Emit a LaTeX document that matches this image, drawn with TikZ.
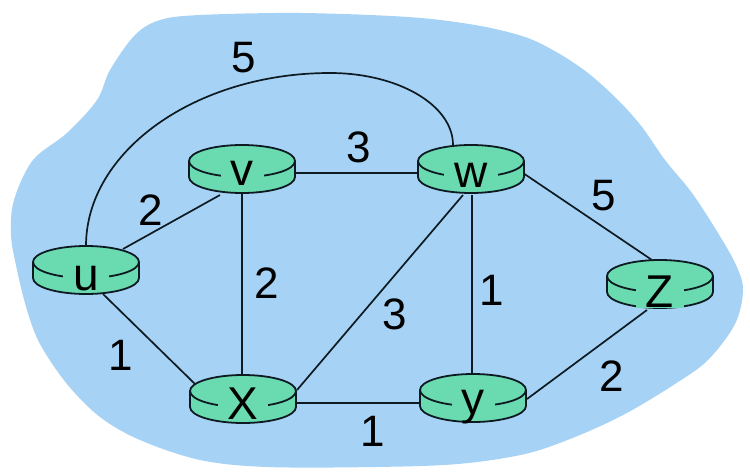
\documentclass[tikz,border=0pt]{standalone}
\usepackage{fontspec}
\setmainfont{Liberation Sans}
\definecolor{blob}{RGB}{166,211,245}
\definecolor{rgreen}{RGB}{106,219,176}
\definecolor{ink}{RGB}{14,26,34}
\newcommand\drawrouter[4][]{%
  \filldraw[rbody] ([shift={(-53,0)}]#2.center) -- ++(0,16)
    arc[start angle=180,end angle=0,x radius=53,y radius=16] -- ++(0,-16)
    arc[start angle=0,end angle=-180,x radius=53,y radius=16] -- cycle;
  \draw[rline] ([shift={(53,0)}]#2.center)
    arc[start angle=0,end angle=180,x radius=53,y radius=16];
  \node[rlabel,#1] (#2l) at ([shift={(0,#4)}]#2.center) {#3};
}
\begin{document}
\begin{tikzpicture}[x=1pt,y=-1pt,
  rnode/.style={rectangle,minimum width=106pt,minimum height=32pt,inner sep=0pt},
  rbody/.style={fill=rgreen,draw=ink,line width=1.8pt,line join=round},
  rline/.style={draw=ink,line width=1.8pt},
  rlabel/.style={anchor=base,fill=rgreen,inner xsep=10pt,inner ysep=0.5pt,
    font=\fontsize{46}{50}\selectfont,text=black},
  link/.style={draw=ink,line width=1.7pt},
  wlab/.style={font=\fontsize{44}{50}\selectfont,text=black,inner sep=0pt}]
\useasboundingbox (0,0) rectangle (750,474);
\fill[white] (0,0) rectangle (750,474);
% cloud
\fill[blob] plot[smooth cycle,tension=0.55] coordinates {
 (200,15) (300,13) (408,17) (475,25) (525,37) (558,53) (588,73) (618,100)
 (642,127) (665,160) (692,193) (718,233) (736,265) (743,290) (735,324)
 (708,360) (675,384) (625,414) (575,437) (525,454) (458,464) (375,467)
 (267,467) (200,460) (140,440) (100,417) (67,384) (40,344) (27,310)
 (17,270) (11,235) (14,200) (33,160) (67,133) (97,100) (110,70) (135,35)
 (160,20)};
% router anchors
\node[rnode] (u) at (86,262) {};
\node[rnode] (v) at (242,161) {};
\node[rnode] (w) at (471,161) {};
\node[rnode] (x) at (243,391) {};
\node[rnode] (y) at (473,390) {};
\node[rnode] (z) at (660,276) {};
\coordinate (top) at (330,73);
% links
\draw[link] ([shift={(37,-13)}]u.center) -- ([shift={(-22,34)}]v.center);
\draw[link] ([shift={(0,-16)}]u.center) .. controls +(0,-95) and +(-134,0) .. (top)
  .. controls +(68,0) and +(0,-40) .. ([shift={(-18,-16)}]w.center);
\draw[link] ([shift={(54,12)}]v.center) -- ([shift={(-53,12)}]w.center);
\draw[link] ([shift={(0,32)}]v.center) -- ([shift={(-1,-16)}]x.center);
\draw[link] ([shift={(-8,34)}]w.center) -- ([shift={(54,-1)}]x.center);
\draw[link] ([shift={(1,34)}]w.center) -- ([shift={(-1,-16)}]y.center);
\draw[link] ([shift={(52,12)}]w.center) -- ([shift={(-8,-16)}]z.center);
\draw[link] ([shift={(54,12)}]x.center) -- ([shift={(-53,13)}]y.center);
\draw[link] ([shift={(54,9)}]y.center) -- ([shift={(-13,34)}]z.center);
\draw[link] ([shift={(17,32)}]u.center) -- ([shift={(-48,-7)}]x.center);
% routers
\drawrouter{u}{u}{28}
\drawrouter{v}{v}{24}
\drawrouter{w}{w}{26}
\drawrouter{x}{X}{28}
\drawrouter[text depth=4pt]{y}{y}{24}
\drawrouter{z}{Z}{31}
% weights
\node[wlab] (l1) at (244,58) {5};
\node[wlab] (l2) at (359,147) {3};
\node[wlab] (l3) at (151,210) {2};
\node[wlab] (l4) at (604,196) {5};
\node[wlab] (l5) at (267,283) {2};
\node[wlab] (l6) at (121,355) {1};
\node[wlab] (l7) at (395,314) {3};
\node[wlab] (l8) at (492,290) {1};
\node[wlab] (l9) at (612,376) {2};
\node[wlab] (l10) at (373,431) {1};
\end{tikzpicture}
\end{document}
